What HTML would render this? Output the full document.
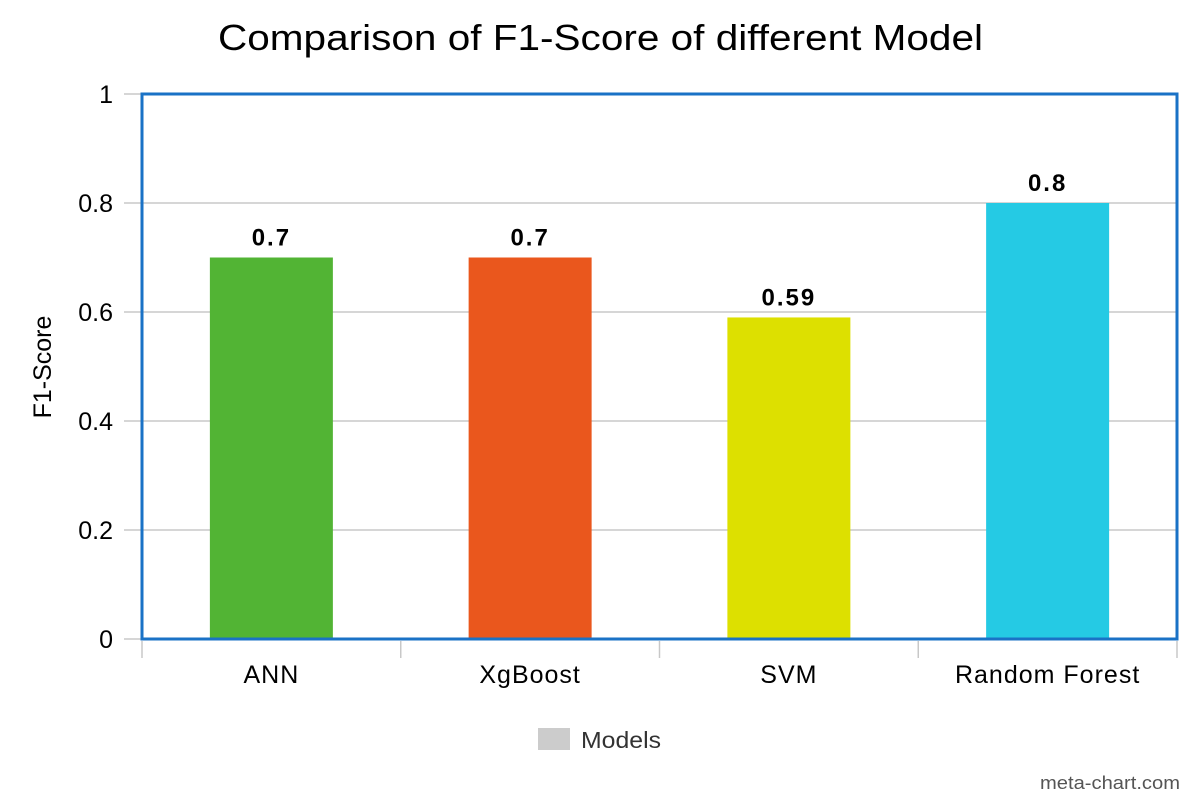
<!DOCTYPE html>
<html><head><meta charset="utf-8"><style>
body{margin:0;background:#fff;}
svg{display:block;font-family:"Liberation Sans",Arial,sans-serif;}
</style></head><body>
<svg id="chart" width="1200" height="800">
<text x="218" y="50" textLength="765" lengthAdjust="spacingAndGlyphs" font-size="36" fill="#000">Comparison of F1-Score of different Model</text>
<g id="grid"></g><g id="bars"></g><g id="axes"></g>
<text transform="translate(51,367) rotate(-90)" text-anchor="middle" font-size="25" fill="#000">F1-Score</text>
<g>
<rect x="538" y="728" width="32" height="22" fill="#cccccc"></rect>
<text x="581" y="748" font-size="23" textLength="80" lengthAdjust="spacingAndGlyphs" fill="#333">Models</text>
</g>
<text x="1040" y="789" textLength="140" lengthAdjust="spacingAndGlyphs" font-size="18" fill="#555">meta-chart.com</text>
</svg>
<script>
const categories=["ANN","XgBoost","SVM","Random Forest"];
const values=[0.7,0.7,0.59,0.8];
const labels=["0.7","0.7","0.59","0.8"];
const colors=["#52b434","#ea571d","#dde000","#25cae4"];
const yTicks=[0,0.2,0.4,0.6,0.8,1];
const yTickLabels=["0","0.2","0.4","0.6","0.8","1"];
const L=142,R=1177,T=94,B=639;
const y=v=>B-(B-T)*v;
const band=(R-L)/categories.length;
const x=i=>L+band*i;
const NS="http://www.w3.org/2000/svg";
function mk(tag,attrs,parent,text){const e=document.createElementNS(NS,tag);for(const k in attrs)e.setAttribute(k,attrs[k]);if(text!==undefined)e.textContent=text;parent.appendChild(e);return e;}
const grid=document.getElementById('grid'),bars=document.getElementById('bars'),axes=document.getElementById('axes');
yTicks.forEach((t,i)=>{
 const g=mk('line',{x1:L,x2:R,y1:y(t),y2:y(t),stroke:'#c8c8c8','stroke-width':1.5},grid);
 
 
 const tk=mk('line',{x1:124,x2:L,y1:y(t),y2:y(t),stroke:'#c8c8c8','stroke-width':1.5},axes);
 
 
 const lb=mk('text',{x:113,y:y(t)+9,'text-anchor':'end','font-size':25,fill:'#000'},axes,yTickLabels[i]);
 
 
});
const bw=123;
categories.forEach((c,i)=>{
 const cx=x(i)+band/2;
 const r=mk('rect',{x:cx-bw/2,y:y(values[i]),width:bw,height:B-y(values[i]),fill:colors[i]},bars);
 
 
 const v=mk('text',{x:cx,y:y(values[i])-12,'text-anchor':'middle','font-size':24,'font-weight':'bold','letter-spacing':2,fill:'#000'},bars,labels[i]);
 
 
 const cl=mk('text',{x:cx,y:683,'text-anchor':'middle','font-size':25,'letter-spacing':1,fill:'#000'},axes,c);
 
 
});
for(let i=0;i<=categories.length;i++){
 const tk=mk('line',{x1:x(i),x2:x(i),y1:641,y2:658,stroke:'#c8c8c8','stroke-width':1.5},axes);
 
 
}
const fr=mk('rect',{x:L,y:T,width:R-L,height:B-T,fill:'none',stroke:'#1a72c6','stroke-width':3},axes);


</script>
</body></html>
